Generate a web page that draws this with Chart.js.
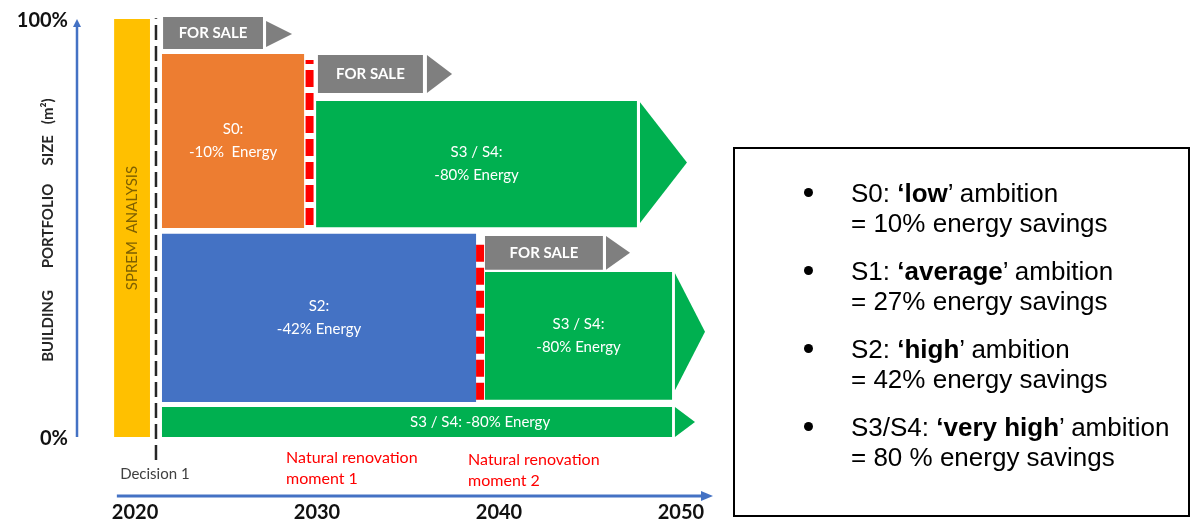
<!DOCTYPE html>
<html>
<head>
<meta charset="utf-8">
<script src="https://cdn.jsdelivr.net/npm/chart.js@4.4.1/dist/chart.umd.min.js"></script>
<style>
  html, body { margin: 0; padding: 0; background: #fff; }
  #wrap { position: relative; width: 1190px; height: 522px; overflow: hidden; }
  #chart { position: absolute; left: 0; top: 0; }
  #note {
    position: absolute; left: 733px; top: 147px; width: 457px; height: 370px;
    box-sizing: border-box; border: 2px solid #000; padding-top: 29px;
    font-family: "Liberation Sans", Arial, sans-serif; font-size: 26px; line-height: 30px; color: #000;
  }
  #note ul { list-style: none; margin: 0; padding: 0; }
  #note li { position: relative; padding-left: 116px; margin-bottom: 18px; white-space: nowrap; }
  #note li::before {
    content: ""; position: absolute; left: 69px; top: 10px;
    width: 9px; height: 9px; border-radius: 50%; background: #000;
  }
</style>
</head>
<body>
<div id="wrap">
  <canvas id="chart" width="1190" height="522"></canvas>
  <div id="note">
    <ul>
      <li>S0: <b>‘low</b>’ ambition<br>= 10% energy savings</li>
      <li>S1: <b>‘average</b>’ ambition<br>= 27% energy savings</li>
      <li>S2: <b>‘high</b>’ ambition<br>= 42% energy savings</li>
      <li>S3/S4: <b>‘very high</b>’ ambition<br>= 80 % energy savings</li>
    </ul>
  </div>
</div>
<script>
// axis ticks
const tickYears = [2020, 2030, 2040, 2050];
const shareTicks = [0, 100];

// blocks: year span and share of portfolio (%)
const blockKind = ["sprem", "sale", "s0", "sale", "s34", "s2", "sale", "s34", "s34"];
const blockFrom = [2018.85, 2021.54, 2021.48, 2030.05, 2029.95, 2021.48, 2039.23, 2039.23, 2021.48];
const blockTo = [2020.82, 2027.03, 2029.29, 2035.82, 2047.58, 2038.74, 2045.71, 2049.51, 2049.51];
const blockLow = [0, 92.8, 50.0, 82.3, 50.2, 8.4, 40.0, 8.9, 0];
const blockHigh = [100, 100.5, 91.6, 91.4, 80.4, 48.6, 48.1, 39.5, 7.2];
const blockText = [
  ["SPREM  ANALYSIS"],
  ["FOR SALE"],
  ["S0:", "-10%  Energy"],
  ["FOR SALE"],
  ["S3 / S4:", "-80% Energy"],
  ["S2:", "-42% Energy"],
  ["FOR SALE"],
  ["S3 / S4:", "-80% Energy"],
  ["S3 / S4: -80% Energy"],
];
const blockTextYear = [null, null, null, null, null, null, null, null, 2038.96];

// arrow heads in front of blocks
const arrowKind = ["sale", "sale", "s34", "sale", "s34", "s34"];
const arrowBase = [2027.2, 2036.04, 2047.75, 2045.88, 2049.67, 2049.67];
const arrowTip = [2028.63, 2037.42, 2050.33, 2047.2, 2051.32, 2050.77];
const arrowLow = [93.3, 82.3, 51.2, 40.0, 11.2, 0];
const arrowHigh = [99.5, 91.4, 80.1, 48.1, 39.2, 7.2];

// decision moment and natural renovation moments
const decisionYear = 2021.15;
const decisionSpan = [-5.5, 100.2];
const renovationYear = [2029.59, 2038.96];
const renovationLow = [50.7, 8.9];
const renovationHigh = [90.2, 47.1];

// notes under the blocks
const noteText = [["Decision 1"], ["Natural renovation", "moment 1"], ["Natural renovation", "moment 2"]];
const noteYear = [2019.18, 2028.3, 2038.3];
const noteShare = [-8.85, -5.0, -5.5];

const kindColor = { sprem: "#ffc000", sale: "#7f7f7f", s0: "#ed7d31", s2: "#4472c4", s34: "#00b050" };
const FONT = "Lato, 'Open Sans', sans-serif";

const datasets = [];

blockKind.forEach((kind, i) => {
  datasets.push({
    label: kind + i,
    data: [
      { x: blockFrom[i], y: blockLow[i] },
      { x: blockTo[i], y: blockLow[i] },
      { x: blockTo[i], y: blockHigh[i] },
      { x: blockFrom[i], y: blockHigh[i] },
      { x: blockFrom[i], y: blockLow[i] },
    ],
    backgroundColor: kindColor[kind],
    borderColor: "transparent",
    borderWidth: 0,
    fill: "shape",
    pointRadius: 0,
    tension: 0,
    order: 2,
  });
});

arrowKind.forEach((kind, i) => {
  datasets.push({
    label: "arrow" + i,
    data: [
      { x: arrowBase[i], y: arrowHigh[i] },
      { x: arrowTip[i], y: (arrowLow[i] + arrowHigh[i]) / 2 },
      { x: arrowBase[i], y: arrowLow[i] },
      { x: arrowBase[i], y: arrowHigh[i] },
    ],
    backgroundColor: kindColor[kind],
    borderColor: "transparent",
    borderWidth: 0,
    fill: "shape",
    pointRadius: 0,
    tension: 0,
    order: 2,
  });
});

renovationYear.forEach((yr, i) => {
  datasets.push({
    label: "renovation" + i,
    data: [{ x: yr, y: renovationLow[i] }, { x: yr, y: renovationHigh[i] }],
    borderColor: "#ff0000",
    borderWidth: 8,
    borderDash: [17, 6],
    borderCapStyle: "butt",
    fill: false,
    pointRadius: 0,
    order: 0,
  });
});

datasets.push({
  label: "decision",
  data: [{ x: decisionYear, y: decisionSpan[0] }, { x: decisionYear, y: decisionSpan[1] }],
  borderColor: "#262626",
  borderWidth: 2.5,
  borderDash: [15, 6],
  borderCapStyle: "butt",
  fill: false,
  pointRadius: 0,
  order: 0,
});

// Texts, axis arrows and axis title
const decor = {
  id: "decor",
  afterDatasetsDraw(chart) {
    const { ctx, chartArea } = chart;
    const x = chart.scales.x;
    const y = chart.scales.y;
    ctx.save();

    // y axis arrow
    const ax = chartArea.left;
    const y0 = y.getPixelForValue(0);
    const y100 = y.getPixelForValue(100);
    ctx.strokeStyle = "#4472c4";
    ctx.fillStyle = "#4472c4";
    ctx.lineWidth = 2.5;
    ctx.beginPath();
    ctx.moveTo(ax, y0);
    ctx.lineTo(ax, y100 + 6);
    ctx.stroke();
    ctx.beginPath();
    ctx.moveTo(ax - 4, y100 + 8);
    ctx.lineTo(ax, y100);
    ctx.lineTo(ax + 4, y100 + 8);
    ctx.closePath();
    ctx.fill();

    // x axis arrow
    const by = chartArea.bottom;
    const xs = x.getPixelForValue(2019.0);
    const xe = chartArea.right - 2;
    ctx.lineWidth = 3;
    ctx.beginPath();
    ctx.moveTo(xs, by);
    ctx.lineTo(xe - 8, by);
    ctx.stroke();
    ctx.beginPath();
    ctx.moveTo(xe - 12, by - 5);
    ctx.lineTo(xe, by);
    ctx.lineTo(xe - 12, by + 5);
    ctx.closePath();
    ctx.fill();

    // y axis title
    ctx.save();
    ctx.translate(48, y.getPixelForValue(49.5));
    ctx.rotate(-Math.PI / 2);
    ctx.fillStyle = "#262626";
    ctx.font = "bold 15px " + FONT;
    ctx.textAlign = "center";
    ctx.textBaseline = "middle";
    ctx.fillText("BUILDING      PORTFOLIO     SIZE   (m²)", 0, 0);
    ctx.restore();

    // block texts
    blockKind.forEach((kind, i) => {
      const lines = blockText[i];
      const midYear = blockTextYear[i] !== null ? blockTextYear[i] : (blockFrom[i] + blockTo[i]) / 2;
      const cx = x.getPixelForValue(midYear);
      const cy = y.getPixelForValue((blockLow[i] + blockHigh[i]) / 2);
      ctx.textAlign = "center";
      ctx.textBaseline = "middle";
      if (kind === "sprem") {
        ctx.save();
        ctx.translate(cx, cy);
        ctx.rotate(-Math.PI / 2);
        ctx.fillStyle = "#7f6000";
        ctx.font = "15px " + FONT;
        ctx.fillText(lines[0], 0, 0);
        ctx.restore();
        return;
      }
      ctx.fillStyle = "#ffffff";
      ctx.font = (kind === "sale" ? "bold 15px " : "15px ") + FONT;
      const lh = 23;
      lines.forEach((t, k) => {
        ctx.fillText(t, cx, cy + (k - (lines.length - 1) / 2) * lh);
      });
    });

    // notes
    noteText.forEach((lines, i) => {
      ctx.fillStyle = i === 0 ? "#404040" : "#ff0000";
      ctx.font = (i === 0 ? "15px " : "16px ") + FONT;
      ctx.textAlign = "left";
      ctx.textBaseline = "middle";
      const px = x.getPixelForValue(noteYear[i]);
      const py = y.getPixelForValue(noteShare[i]);
      lines.forEach((t, k) => ctx.fillText(t, px, py + k * 21));
    });

    ctx.restore();
  },
};

new Chart(document.getElementById("chart"), {
  type: "line",
  data: { datasets },
  options: {
    responsive: false,
    animation: false,
    events: [],
    layout: { padding: { top: 10, right: 475, left: 0, bottom: 0 } },
    plugins: { legend: { display: false }, tooltip: { enabled: false } },
    scales: {
      x: {
        type: "linear",
        min: 2016.81,
        max: 2051.87,
        grid: { display: false },
        border: { display: false },
        afterBuildTicks: (s) => {
          s.ticks = tickYears.map((v) => ({ value: v }));
        },
        afterFit: (s) => {
          s.height = 26;
          s.paddingLeft = 0;
          s.paddingRight = 0;
        },
        ticks: {
          padding: -3,
          autoSkip: false,
          maxRotation: 0,
          color: "#111",
          font: { family: FONT, size: 20, weight: "bold" },
          callback: (v) => String(v),
        },
      },
      y: {
        type: "linear",
        min: -14.11,
        max: 102.15,
        grid: { display: false },
        border: { display: false },
        afterBuildTicks: (s) => {
          s.ticks = shareTicks.map((v) => ({ value: v }));
        },
        afterFit: (s) => {
          s.width = 77;
          s.paddingTop = 0;
          s.paddingBottom = 0;
        },
        ticks: {
          padding: 1,
          labelOffset: 2,
          color: "#111",
          font: { family: FONT, size: 20, weight: "bold" },
          callback: (v) => v + "%",
        },
      },
    },
  },
  plugins: [decor],
});
</script>
</body>
</html>
